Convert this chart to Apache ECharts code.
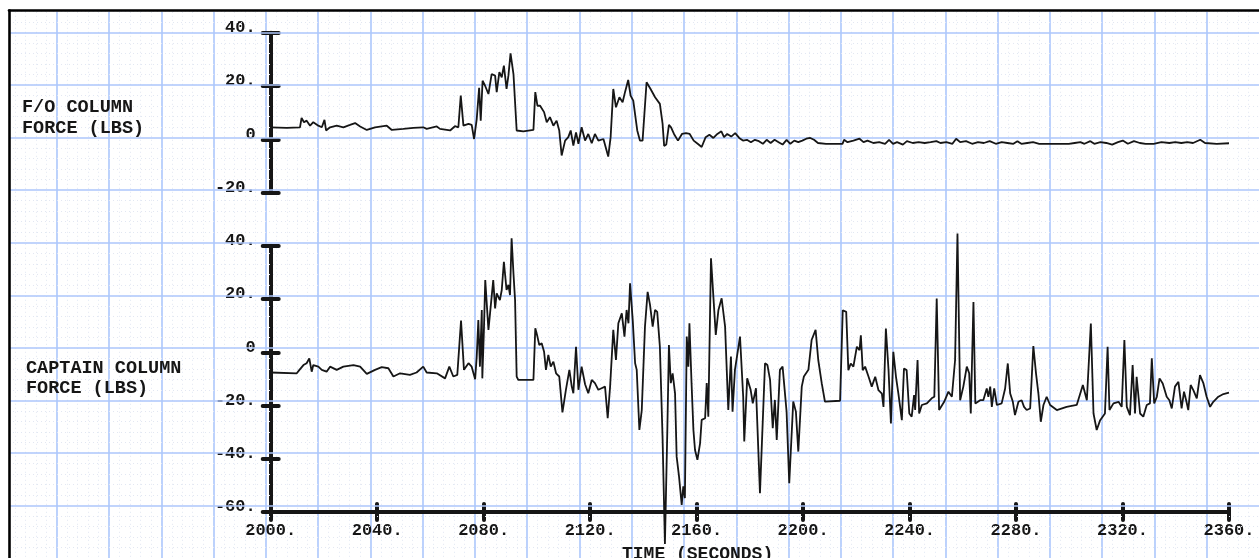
<!DOCTYPE html>
<html>
<head>
<meta charset="utf-8">
<style>html,body{margin:0;padding:0;background:#fff}#c{width:1259px;height:558px}</style>
<script src="https://cdn.jsdelivr.net/npm/echarts@6/dist/echarts.min.js"></script>
</head>
<body>
<div id="c"></div>
<script>
// F/O column force (lbs): [time s, force]
const foSamples = [
[2000.0,4.5],[2006.0,4.3],[2011.0,4.5],[2011.6,8.0],[2012.5,6.4],[2013.5,7.0],[2014.8,5.1],[2016.0,6.4],[2017.9,5.1],[2019.2,4.5],
[2020.2,7.3],[2020.8,3.3],[2022.3,4.5],[2024.8,5.1],[2027.3,4.5],[2029.8,5.4],[2031.7,6.1],[2033.6,4.8],[2036.1,3.5],[2039.2,4.5],
[2043.6,5.1],[2045.5,3.5],[2049.8,3.9],[2053.6,4.3],[2057.3,4.5],[2058.6,3.9],[2062.4,4.8],[2063.6,3.9],[2067.4,3.3],[2069.2,4.9],
[2070.5,4.5],[2071.4,16.4],[2072.4,5.1],[2074.3,5.8],[2075.5,5.4],[2076.4,0.1],[2077.4,7.6],[2078.3,19.3],[2078.9,7.0],[2079.6,22.0],
[2080.5,20.2],[2081.8,17.0],[2083.0,24.5],[2084.3,23.9],[2084.9,17.7],[2085.9,25.2],[2086.8,23.3],[2087.6,27.7],[2088.6,18.9],[2089.3,23.9],
[2090.1,32.3],[2091.2,24.5],[2092.4,3.3],[2094.9,3.0],[2098.7,3.5],[2099.4,17.7],[2100.2,12.6],[2101.2,12.6],[2102.7,10.2],[2103.7,6.4],
[2104.9,8.3],[2106.2,5.1],[2107.4,7.0],[2108.4,3.3],[2109.3,-6.1],[2110.6,-0.5],[2111.8,0.8],[2112.7,3.3],[2113.7,-2.4],[2114.7,2.6],
[2115.6,-1.7],[2116.8,4.5],[2118.1,-0.5],[2119.3,2.0],[2120.6,-1.5],[2121.8,2.0],[2123.1,-0.5],[2125.0,0.1],[2126.8,-6.5],[2127.7,0.8],
[2128.7,18.9],[2129.7,12.0],[2131.0,15.8],[2132.2,13.9],[2133.1,17.7],[2134.3,22.3],[2135.2,16.4],[2136.2,14.5],[2137.7,3.3],[2138.7,-0.5],
[2139.7,-0.5],[2141.2,21.4],[2142.7,18.9],[2144.4,15.8],[2146.2,13.3],[2147.2,6.0],[2147.8,-2.5],[2148.6,-2.0],[2149.6,5.4],[2150.4,4.5],
[2151.5,2.0],[2153.0,-0.5],[2154.5,2.0],[2156.0,2.3],[2157.4,2.0],[2158.9,-0.5],[2160.4,-1.7],[2161.9,-2.9],[2163.4,0.8],[2164.8,1.7],
[2166.3,0.5],[2167.8,2.0],[2169.3,3.0],[2170.3,0.8],[2171.5,2.0],[2173.0,1.0],[2174.5,2.3],[2176.0,0.5],[2177.4,-0.5],[2178.9,-0.2],
[2180.4,-1.1],[2181.9,-0.2],[2183.4,-0.7],[2184.9,-1.7],[2186.3,-0.2],[2187.8,-1.4],[2189.3,-0.2],[2190.8,-1.1],[2192.3,-2.0],[2193.8,-0.2],
[2195.2,-1.7],[2196.7,-0.5],[2198.2,-1.1],[2199.7,-0.5],[2201.2,0.2],[2202.7,0.5],[2204.1,-0.2],[2205.6,-1.4],[2208.6,-1.7],[2213.0,-1.7],
[2214.8,-1.7],[2215.4,-0.2],[2216.7,-1.1],[2218.9,-0.5],[2221.2,0.2],[2222.7,-1.1],[2224.2,-0.5],[2226.4,-1.4],[2228.6,-1.1],[2230.8,-1.7],
[2232.3,-0.2],[2233.8,-1.7],[2235.3,-1.1],[2237.5,-2.0],[2239.0,-0.7],[2241.2,-1.4],[2243.4,-1.1],[2245.7,-1.4],[2247.9,-1.1],[2250.1,-0.7],
[2251.6,-1.4],[2253.8,-1.1],[2256.1,-1.7],[2257.5,0.2],[2259.0,-1.1],[2261.2,-0.7],[2263.5,-1.7],[2265.7,-1.1],[2267.9,-1.4],[2270.1,-0.7],
[2272.4,-1.7],[2274.6,-1.1],[2276.8,-1.4],[2279.0,-1.7],[2280.5,-0.7],[2282.0,-1.7],[2284.2,-1.4],[2286.4,-1.1],[2288.7,-1.7],[2291.6,-1.7],
[2296.1,-1.7],[2299.8,-1.7],[2302.0,-1.4],[2304.2,-1.1],[2305.7,-1.7],[2307.9,-0.7],[2309.4,-1.7],[2311.7,-1.1],[2313.9,-1.4],[2316.1,-2.0],
[2318.3,-1.1],[2320.1,-0.5],[2322.0,-1.7],[2324.3,-0.7],[2326.5,-1.4],[2328.7,-1.7],[2331.7,-1.7],[2334.6,-1.1],[2337.6,-1.4],[2339.8,-1.1],
[2342.1,-1.4],[2344.3,-1.1],[2346.5,-1.4],[2349.2,-0.2],[2351.0,-1.4],[2355.4,-1.7],[2360.0,-1.5]
];

// Captain column force (lbs): [time s, force]
const captSamples = [
[2000.0,-7.6],[2009.8,-7.9],[2010.8,-6.6],[2012.3,-4.8],[2013.5,-4.1],[2014.5,-2.3],[2015.4,-7.3],[2016.0,-4.8],[2017.9,-5.4],[2019.2,-6.6],
[2021.0,-7.3],[2022.3,-5.4],[2024.8,-6.6],[2027.3,-5.4],[2031.1,-4.8],[2033.6,-5.4],[2036.1,-8.1],[2039.2,-6.6],[2041.7,-5.6],[2044.2,-6.0],
[2046.1,-9.1],[2048.6,-7.9],[2052.3,-8.5],[2054.8,-7.6],[2057.3,-5.4],[2058.6,-7.6],[2062.4,-7.9],[2065.5,-9.8],[2067.1,-5.4],[2068.6,-9.1],
[2070.1,-8.5],[2071.5,11.9],[2072.6,-6.6],[2074.3,-4.1],[2075.5,-5.4],[2076.8,-10.1],[2077.4,-1.6],[2078.0,12.1],[2078.6,-5.4],[2079.3,15.9],
[2079.5,-9.8],[2080.1,8.4],[2080.6,27.1],[2081.8,8.4],[2082.4,14.6],[2083.6,27.1],[2084.3,16.5],[2084.9,22.1],[2086.1,19.6],[2086.8,23.4],
[2087.6,34.0],[2088.6,23.4],[2089.3,25.3],[2089.9,21.5],[2090.5,42.8],[2091.2,29.6],[2091.8,19.6],[2092.4,-9.1],[2093.0,-10.4],[2096.2,-10.4],
[2098.7,-10.4],[2099.4,9.0],[2100.2,5.9],[2100.9,2.7],[2101.8,3.4],[2102.7,0.2],[2103.4,-6.6],[2104.3,-1.0],[2105.2,-5.4],[2106.2,-3.5],
[2107.2,-7.9],[2108.4,-9.1],[2109.6,-22.6],[2110.9,-14.1],[2112.2,-6.6],[2113.1,-12.9],[2113.7,-15.4],[2114.7,2.1],[2115.6,-14.1],[2116.8,-5.4],
[2118.1,-12.0],[2119.3,-15.4],[2120.6,-10.4],[2121.8,-11.6],[2123.1,-14.1],[2124.3,-13.5],[2125.6,-12.9],[2126.6,-24.8],[2127.5,-12.9],[2128.7,8.4],
[2129.7,-2.9],[2130.6,10.9],[2131.9,14.6],[2132.9,5.9],[2133.7,15.9],[2134.4,10.9],[2135.0,25.9],[2136.0,12.1],[2136.9,-4.1],[2137.5,-6.6],
[2138.5,-29.2],[2139.4,-21.7],[2140.6,9.6],[2141.6,22.7],[2142.5,17.8],[2143.5,9.6],[2144.4,15.9],[2145.2,15.2],[2146.2,2.1],[2147.2,-31.7],
[2148.1,-72.0],[2149.0,-29.2],[2149.6,2.7],[2150.3,-11.6],[2151.0,-7.9],[2151.9,-15.4],[2152.5,-39.2],[2153.4,-46.7],[2154.4,-57.3],[2155.0,-50.4],
[2155.6,-54.8],[2156.3,5.9],[2156.9,-5.4],[2157.3,10.9],[2158.1,-11.6],[2158.8,-29.2],[2159.4,-36.7],[2160.3,-40.4],[2161.3,-34.2],[2161.9,-25.4],
[2163.2,-24.8],[2163.8,-11.6],[2164.4,-24.2],[2165.4,35.3],[2166.3,20.9],[2167.2,6.5],[2168.2,15.9],[2169.4,20.3],[2170.7,9.6],[2171.9,-21.7],
[2172.9,-1.6],[2173.5,-22.3],[2174.4,-6.6],[2176.3,5.9],[2177.5,-16.7],[2177.9,-33.5],[2179.0,-9.8],[2180.3,-14.1],[2181.1,-19.2],[2182.3,-13.5],
[2183.8,-52.9],[2185.7,-4.1],[2186.6,-4.8],[2187.6,-10.4],[2188.6,-28.5],[2189.4,-17.9],[2190.1,-32.9],[2191.3,-6.6],[2192.3,-5.4],[2193.8,-22.3],
[2194.8,-49.2],[2196.3,-18.5],[2197.3,-22.3],[2198.2,-37.3],[2199.5,-12.9],[2200.3,-9.1],[2202.0,-6.6],[2203.2,4.6],[2204.7,8.4],[2205.7,-2.9],
[2207.0,-11.6],[2208.2,-18.5],[2213.9,-18.2],[2214.5,-18.6],[2214.9,15.8],[2216.2,15.2],[2217.0,-6.7],[2217.9,-4.2],[2218.9,-5.4],[2220.2,2.1],
[2221.2,0.8],[2221.7,6.4],[2222.4,-6.7],[2223.3,-5.4],[2224.6,-9.2],[2225.8,-12.9],[2227.1,-9.2],[2228.3,-14.2],[2229.6,-15.5],[2230.2,-20.5],
[2231.1,8.9],[2232.1,-6.7],[2233.0,-26.7],[2233.9,0.2],[2234.9,-9.2],[2235.8,-15.5],[2237.1,-25.5],[2237.9,-6.1],[2238.9,-6.7],[2239.9,-23.0],
[2240.8,-24.2],[2241.7,-16.1],[2242.1,-21.7],[2243.0,-2.9],[2243.6,-23.0],[2244.6,-19.8],[2246.5,-19.2],[2248.3,-17.3],[2249.3,-16.7],[2250.2,20.2],
[2251.1,-21.7],[2253.0,-18.6],[2254.6,-14.8],[2255.9,-16.7],[2257.1,-2.9],[2258.0,44.6],[2259.0,-18.0],[2260.2,-12.9],[2261.5,-5.4],[2262.4,-7.9],
[2263.0,-23.0],[2264.0,18.9],[2264.7,-19.2],[2266.5,-18.0],[2267.7,-18.0],[2269.0,-13.6],[2269.6,-16.7],[2270.3,-12.9],[2270.9,-20.5],[2271.8,-13.6],
[2272.8,-19.8],[2274.6,-19.2],[2275.9,-13.6],[2276.9,-4.2],[2277.8,-15.5],[2278.8,-18.6],[2279.6,-23.6],[2280.9,-18.6],[2282.1,-18.0],[2283.0,-20.5],
[2284.0,-21.7],[2285.3,-21.1],[2286.5,2.3],[2287.5,-7.9],[2288.4,-15.5],[2289.3,-26.1],[2290.3,-19.8],[2291.5,-16.7],[2292.8,-19.8],[2295.3,-21.7],
[2299.0,-20.5],[2302.8,-19.8],[2305.1,-12.3],[2306.6,-18.0],[2308.1,10.8],[2309.1,-23.0],[2310.3,-29.2],[2311.6,-25.5],[2313.4,-23.0],[2314.4,2.1],
[2315.1,-21.7],[2316.6,-19.2],[2318.5,-18.6],[2319.7,-20.5],[2320.7,4.6],[2321.6,-20.5],[2322.8,-23.6],[2323.8,-4.8],[2324.7,-23.0],[2325.3,-9.2],
[2326.6,-23.0],[2327.8,-24.2],[2329.1,-19.8],[2330.3,-19.2],[2331.0,-2.3],[2331.9,-19.2],[2332.9,-16.7],[2333.9,-9.8],[2335.1,-11.7],[2336.6,-16.7],
[2337.6,-18.0],[2338.5,-21.1],[2339.7,-12.9],[2341.0,-11.1],[2342.2,-21.1],[2343.1,-14.8],[2343.9,-18.0],[2344.7,-21.7],[2345.6,-12.3],[2346.6,-14.2],
[2347.9,-17.3],[2349.1,-8.6],[2350.4,-11.7],[2351.6,-16.7],[2352.9,-20.5],[2354.1,-18.6],[2356.0,-16.7],[2357.9,-15.7],[2360.0,-15.2]
];

const timeRange = [2000, 2360];
const timeTickStep = 40;
const foRange = [-20, 40];
const captRange = [-60, 40];
const forceTickStep = 20;
const foLabel = 'F/O COLUMN\nFORCE (LBS)';
const captLabel = 'CAPTAIN COLUMN\nFORCE (LBS)';
const timeLabel = 'TIME (SECONDS)';

const FONT = 'Liberation Mono';
const INK = '#161616';
const GRID_BLUE = '#adc7fb';
const MINOR = '#e3e7f2';

const noParts = {axisTick: {show: false}, axisLabel: {show: false}};
const yFmt = v => (v === 0 ? '0' : v + '.');
const tickStyle = {color: INK, width: 4, cap: 'round'};
const frameLine = {show: true, onZero: false, lineStyle: {color: '#000', width: 2.6}};

const chart = echarts.init(document.getElementById('c'), null, {renderer: 'canvas'});
chart.setOption({
  animation: false,
  backgroundColor: '#fff',
  title: [
    {text: foLabel, left: 17, top: 92, textStyle: {fontFamily: FONT, fontWeight: 'bold', fontSize: 18.5, color: INK, lineHeight: 21}},
    {text: captLabel, left: 21, top: 353, textStyle: {fontFamily: FONT, fontWeight: 'bold', fontSize: 18.5, color: INK, lineHeight: 20}},
    {text: timeLabel, left: 617, top: 540, textStyle: {fontFamily: FONT, fontWeight: 'bold', fontSize: 18, color: INK}}
  ],
  grid: [
    // frame (top + left edges) + horizontal graph-paper lines
    {left: 9, top: 10.5, right: -10, bottom: -7.2},
    // vertical graph-paper lines
    {left: 4.5, width: 1277.8, top: 11.8, bottom: -5},
    // F/O panel
    {left: 270.7, width: 958.3, top: 32.8, height: 159.7},
    // Captain panel
    {left: 270.7, width: 958.3, top: 245.8, height: 266.2}
  ],
  xAxis: [
    Object.assign({type: 'value', gridIndex: 0, min: 0, max: 1, position: 'top', z: 4,
      axisLine: frameLine, splitLine: {show: false}}, noParts),
    Object.assign({type: 'value', gridIndex: 1, min: 1900, max: 2380, interval: 20,
      axisLine: {show: false},
      splitLine: {show: true, showMinLine: false, showMaxLine: false, lineStyle: {color: GRID_BLUE, width: 1.6}},
      minorTick: {show: false, splitNumber: 5},
      minorSplitLine: {show: true, lineStyle: {color: MINOR, width: 1, type: [1, 3]}}}, noParts),
    {type: 'value', gridIndex: 2, min: timeRange[0], max: timeRange[1], show: false},
    {type: 'value', gridIndex: 3, min: timeRange[0], max: timeRange[1], interval: timeTickStep, position: 'bottom', z: 3,
      axisLine: {show: true, onZero: false, lineStyle: {color: INK, width: 4}},
      axisTick: {show: true, length: 8, lineStyle: tickStyle},
      axisLabel: {show: true, margin: 10, formatter: v => v + '.', fontFamily: FONT, fontWeight: 'bold', fontSize: 17, color: INK},
      splitLine: {show: false}},
    {type: 'value', gridIndex: 3, min: timeRange[0], max: timeRange[1], interval: timeTickStep, position: 'bottom', offset: 0, z: 3,
      axisLine: {show: false, onZero: false}, axisTick: {show: true, inside: true, length: 8, lineStyle: tickStyle},
      axisLabel: {show: false}, splitLine: {show: false}}
  ],
  yAxis: [
    Object.assign({type: 'value', gridIndex: 0, min: -80, max: 128.4, interval: 20, position: 'left', z: 4,
      axisLine: frameLine,
      splitLine: {show: true, showMinLine: false, showMaxLine: false, lineStyle: {color: GRID_BLUE, width: 1.6}},
      minorTick: {show: false, splitNumber: 5},
      minorSplitLine: {show: true, lineStyle: {color: MINOR, width: 1, type: [1, 3]}}}, noParts),
    Object.assign({type: 'value', gridIndex: 1, min: 0, max: 1, axisLine: {show: false}, splitLine: {show: false}}, noParts),
    {type: 'value', gridIndex: 2, min: foRange[0], max: foRange[1], interval: forceTickStep, position: 'left', z: 3,
      axisLine: {show: true, onZero: false, lineStyle: {color: INK, width: 4}},
      axisTick: {show: true, length: 8, lineStyle: tickStyle},
      axisLabel: {show: true, margin: 15, formatter: yFmt, verticalAlign: 'bottom', lineHeight: 10,
        fontFamily: FONT, fontWeight: 'bold', fontSize: 17, color: INK},
      splitLine: {show: false}},
    {type: 'value', gridIndex: 2, min: foRange[0], max: foRange[1], interval: forceTickStep, position: 'left', offset: 0, z: 3,
      axisLine: {show: false, onZero: false}, axisTick: {show: true, inside: true, length: 8, lineStyle: tickStyle},
      axisLabel: {show: false}, splitLine: {show: false}},
    {type: 'value', gridIndex: 3, min: captRange[0], max: captRange[1], interval: forceTickStep, position: 'left', z: 3,
      axisLine: {show: true, onZero: false, lineStyle: {color: INK, width: 4}},
      axisTick: {show: true, length: 8, lineStyle: tickStyle},
      axisLabel: {show: true, margin: 15, formatter: yFmt, verticalAlign: 'bottom', lineHeight: 10,
        fontFamily: FONT, fontWeight: 'bold', fontSize: 17, color: INK},
      splitLine: {show: false}},
    {type: 'value', gridIndex: 3, min: captRange[0], max: captRange[1], interval: forceTickStep, position: 'left', offset: 0, z: 3,
      axisLine: {show: false, onZero: false}, axisTick: {show: true, inside: true, length: 8, lineStyle: tickStyle},
      axisLabel: {show: false}, splitLine: {show: false}}
  ],
  series: [
    {type: 'line', xAxisIndex: 2, yAxisIndex: 2, data: foSamples, showSymbol: false, symbol: 'none',
      lineStyle: {color: INK, width: 1.8}, clip: false, z: 5},
    {type: 'line', xAxisIndex: 3, yAxisIndex: 4, data: captSamples, showSymbol: false, symbol: 'none',
      lineStyle: {color: INK, width: 1.8}, clip: false, z: 5}
  ]
});
</script>
</body>
</html>
